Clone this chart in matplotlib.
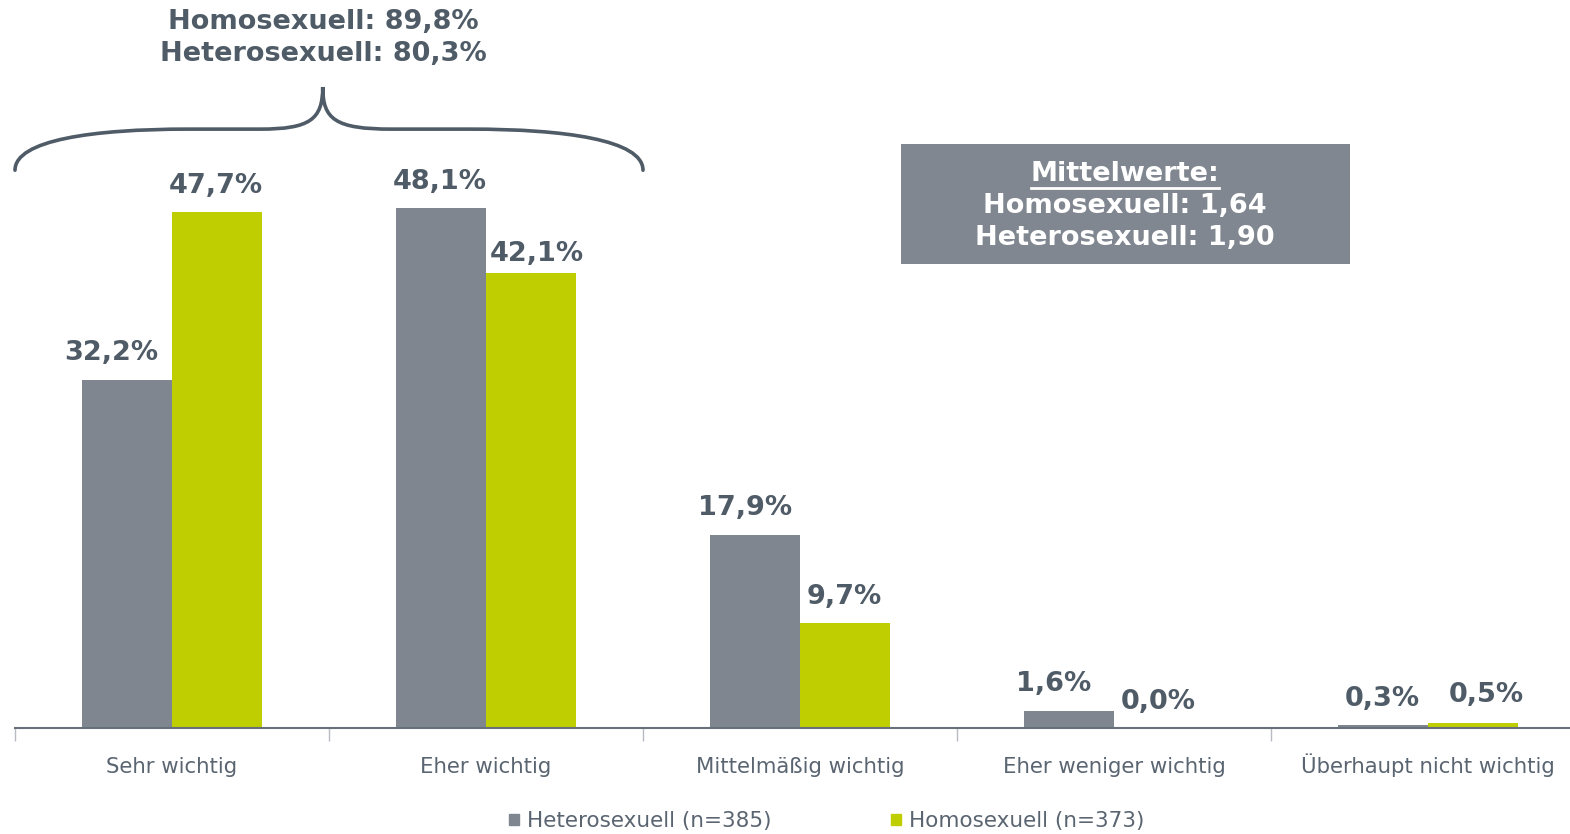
import numpy as np
import matplotlib
matplotlib.use("Agg")
import matplotlib.pyplot as plt
from matplotlib.patches import Rectangle, PathPatch
from matplotlib.path import Path
from matplotlib.lines import Line2D

plt.rcParams['font.family'] = ['DejaVu Sans']

# === Daten ===
categories = ["Sehr wichtig", "Eher wichtig", "Mittelmäßig wichtig",
              "Eher weniger wichtig", "Überhaupt nicht wichtig"]
hetero = [32.2, 48.1, 17.9, 1.6, 0.3]
homo = [47.7, 42.1, 9.7, 0.0, 0.5]
hetero_label = "Heterosexuell (n=385)"
homo_label = "Homosexuell (n=373)"
brace_text = "Homosexuell: 89,8%\nHeterosexuell: 80,3%"
box_title = "Mittelwerte:"
box_lines = "Homosexuell: 1,64\nHeterosexuell: 1,90"

# manuelle Verschiebung der Beschriftungen (px), wie im Original
hetero_dx = [-16, -1, -10, -15, -1]
hetero_dy = [1, 0, 1, 1, 0]
homo_dx = [-1, 6, -1, -1, 13]
homo_dy = [0, -7, 0, 0, 2]

GRAY = "#7f8690"
GREEN = "#bfce00"
DARK = "#4f5b66"
TICKC = "#5a6571"

W, H = 1570, 834
fig = plt.figure(figsize=(W / 100, H / 100), dpi=100)
PT = 72 / 100  # px -> points

# Achse reicht rechts ueber das Bild hinaus (wie im Original)
ax = fig.add_axes([15 / W, (H - 728) / H, 1570 / W, (728 - 79.4) / H])
ax.set_xlim(-0.5, 4.5)
ax.set_ylim(0, 60)

x = np.arange(len(categories))
bw = 90 / 314
b1 = ax.bar(x - bw / 2, hetero, bw, color=GRAY, label=hetero_label)
b2 = ax.bar(x + bw / 2, homo, bw, color=GREEN, label=homo_label)

for bars, vals, dxs, dys in ((b1, hetero, hetero_dx, hetero_dy),
                             (b2, homo, homo_dx, homo_dy)):
    for r, v, dx, dy in zip(bars, vals, dxs, dys):
        ax.annotate(f"{v:.1f}%".replace(".", ","),
                    (r.get_x() + r.get_width() / 2, r.get_height()),
                    xytext=(dx * PT, (13 + dy) * PT), textcoords="offset points",
                    ha="center", va="bottom", fontsize=19.5,
                    fontweight="bold", color=DARK)

for s in ("top", "right", "left"):
    ax.spines[s].set_visible(False)
ax.spines["bottom"].set_color("#65707b")
ax.spines["bottom"].set_linewidth(1.5)
ax.set_yticks([])
ax.set_xticks(x)
ax.set_xticklabels(categories, fontsize=15.3, color=TICKC, va="baseline")
ax.tick_params(axis="x", which="major", length=0, pad=45 * PT)
ax.set_xticks(np.arange(-0.5, 5, 1), minor=True)
ax.tick_params(axis="x", which="minor", length=9, color="#b8bcc2", width=1)

# === Klammer ueber den ersten zwei Kategorien ===
ye, yf, yp = 51.6, 55.4, 59.3
xc = 0.48
verts = [(-0.5, ye), (-0.5, 54.4), (-0.25, yf), (0.05, yf),
         (0.28, yf),
         (xc - 0.04, yf), (xc, 56.3), (xc, yp),
         (xc, 56.3), (xc + 0.04, yf), (0.7, yf),
         (0.95, yf),
         (1.25, yf), (1.5, 54.4), (1.5, ye)]
codes = [Path.MOVETO, Path.CURVE4, Path.CURVE4, Path.CURVE4,
         Path.LINETO,
         Path.CURVE4, Path.CURVE4, Path.CURVE4,
         Path.CURVE4, Path.CURVE4, Path.CURVE4,
         Path.LINETO,
         Path.CURVE4, Path.CURVE4, Path.CURVE4]
ax.add_patch(PathPatch(Path(verts, codes), fill=False, edgecolor=DARK,
                       lw=2.6, clip_on=False, capstyle="round"))
fig.text(323 / W, (H - 38) / H, brace_text, ha="center", va="center", fontsize=19.5,
         fontweight="bold", color=DARK, linespacing=1.28)

# === Box mit Mittelwerten ===
fig.patches.append(Rectangle((901 / W, (H - 264) / H), 449 / W, 120 / H,
                             transform=fig.transFigure, facecolor="#808790",
                             edgecolor="none"))
t_title = fig.text(1125 / W, (H - 174) / H, box_title, ha="center", va="center",
                   fontsize=19.5, fontweight="bold", color="white")
fig.text(1125 / W, (H - 222) / H, box_lines, ha="center", va="center",
         fontsize=19.5, fontweight="bold", color="white", linespacing=1.28)

fig.canvas.draw()
bb = t_title.get_window_extent()
fig.lines.append(Line2D([bb.x0 / W, bb.x1 / W], [(bb.y0 - 1) / H, (bb.y0 - 1) / H],
                        transform=fig.transFigure, color="white", lw=2))

# === Legende ===
handles = [Rectangle((0, 0), 1, 1, color=GRAY), Rectangle((0, 0), 1, 1, color=GREEN)]
fig.legend(handles, [hetero_label, homo_label], loc="center",
           bbox_to_anchor=(827 / W, (H - 821) / H), ncol=2, frameon=False,
           fontsize=15.5, handlelength=0.45, handleheight=0.45,
           handletextpad=0.38, columnspacing=5.55, labelcolor=TICKC)

fig.savefig("out.png", dpi=100)
